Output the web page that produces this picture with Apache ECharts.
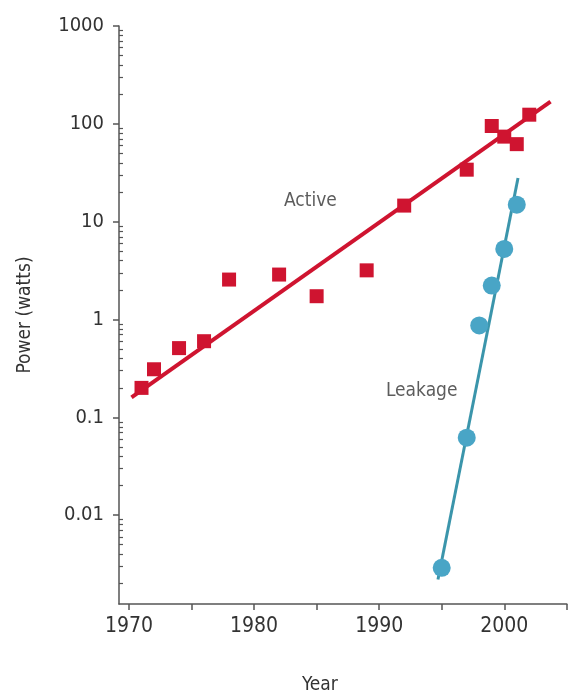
<!DOCTYPE html>
<html>
<head>
<meta charset="utf-8">
<script src="https://cdn.jsdelivr.net/npm/echarts@6/dist/echarts.min.js"></script>
<style>html,body{margin:0;padding:0;background:#fff}#c{width:568px;height:700px}</style>
</head>
<body>
<div id="c"></div>
<script>
// ---- data ----
var activeYears  = [1971, 1972, 1974, 1976, 1978, 1982, 1985, 1989, 1992, 1997, 1999, 2000, 2001, 2002];
var activeValues = [0.20, 0.31, 0.51, 0.60, 2.56, 2.88, 1.73, 3.18, 14.6, 34, 95, 74, 62, 124];
var leakYears    = [1995, 1997, 1998, 1999, 2000, 2001];
var leakValues   = [0.0029, 0.062, 0.87, 2.22, 5.26, 14.9];
var activeFitYears  = [1970.2, 2003.7];
var activeFitValues = [0.16, 169];
var leakFitYears    = [1994.7, 2001.1];
var leakFitValues   = [0.0022, 28];
var labelNames  = ['Active', 'Leakage'];
var labelYears  = [1984.5, 1993.4];
var labelValues = [16.4, 0.184];
var xTickValues  = [1970, 1975, 1980, 1985, 1990, 1995, 2000, 2005];
var xLabelValues = [1970, 1980, 1990, 2000];
var yLabelValues = [0.01, 0.1, 1, 10, 100, 1000];
var xMin = 1969.2, xMax = 2005, yMin = 0.001236, yMax = 1000;

var yMinor = [];
for (var k = -3; k <= 2; k++) {
  for (var m = 2; m <= 9; m++) {
    var v = +(m * Math.pow(10, k)).toPrecision(6);
    if (v >= yMin && v <= yMax) yMinor.push(v);
  }
}
function zip(a, b) { return a.map(function (x, i) { return [x, b[i]]; }); }

var FONT = "'Liberation Sans Narrow', 'DejaVu Sans Condensed', 'Roboto Condensed', sans-serif";
var RED = '#cf1430', BLUE = '#49a5c6', BLUE_LINE = '#3b95ab', AX = '#555';

var chart = echarts.init(document.getElementById('c'), null, {renderer: 'canvas'});
chart.setOption({
  backgroundColor: '#fff',
  animation: false,
  grid: {left: 119, top: 26, width: 447.8, height: 579, containLabel: false},
  xAxis: {
    type: 'value', min: xMin, max: xMax,
    name: 'Year', nameLocation: 'middle', nameGap: 72,
    nameTextStyle: {fontFamily: FONT, fontSize: 19, color: '#333', padding: [0, 46, 0, 0]},
    axisLine: {show: true, lineStyle: {color: AX, width: 1.5}},
    axisTick: {show: true, customValues: xTickValues, length: 6, lineStyle: {color: AX, width: 1.5}},
    axisLabel: {customValues: xLabelValues, fontFamily: FONT, fontSize: 21, color: '#333', margin: 12,
      formatter: function (v) { return String(Math.round(v)); }},
    splitLine: {show: false}
  },
  yAxis: [{
    type: 'log', min: yMin, max: yMax, logBase: 10,
    name: 'Power (watts)', nameLocation: 'middle', nameGap: 84, nameRotate: 90,
    nameTextStyle: {fontFamily: FONT, fontSize: 19, color: '#333'},
    axisLine: {show: true, lineStyle: {color: AX, width: 1.5}},
    axisTick: {show: true, customValues: yLabelValues, length: 6, lineStyle: {color: AX, width: 1.5}},
    axisLabel: {customValues: yLabelValues, fontFamily: FONT, fontSize: 20, color: '#333', margin: 15,
      formatter: function (v) { return String(+(+v).toPrecision(6)); }},
    splitLine: {show: false}
  }, {
    type: 'log', min: yMin, max: yMax, logBase: 10, position: 'left',
    axisLine: {show: false},
    axisTick: {show: true, inside: true, customValues: yMinor, length: 4, lineStyle: {color: AX, width: 1.2}},
    axisLabel: {show: false},
    splitLine: {show: false}
  }],
  series: [
    {type: 'line', data: zip(activeFitYears, activeFitValues), symbol: 'none',
     lineStyle: {color: RED, width: 4}, z: 2, silent: true},
    {type: 'line', data: zip(leakFitYears, leakFitValues), symbol: 'none',
     lineStyle: {color: BLUE_LINE, width: 3}, z: 2, silent: true},
    {type: 'scatter', name: 'Active', data: zip(activeYears, activeValues), symbol: 'rect', symbolSize: 14,
     itemStyle: {color: RED, opacity: 1}, z: 3},
    {type: 'scatter', name: 'Leakage', data: zip(leakYears, leakValues), symbol: 'circle', symbolSize: 18,
     itemStyle: {color: BLUE, opacity: 1}, z: 3},
    {type: 'scatter', data: labelNames.map(function (n, i) { return {name: n, value: [labelYears[i], labelValues[i]]}; }),
     symbolSize: 1, itemStyle: {color: 'rgba(0,0,0,0)'}, z: 4,
     label: {show: true, position: 'inside', formatter: '{b}', fontFamily: FONT, fontSize: 19, color: '#333'}}
  ]
});
</script>
</body>
</html>
